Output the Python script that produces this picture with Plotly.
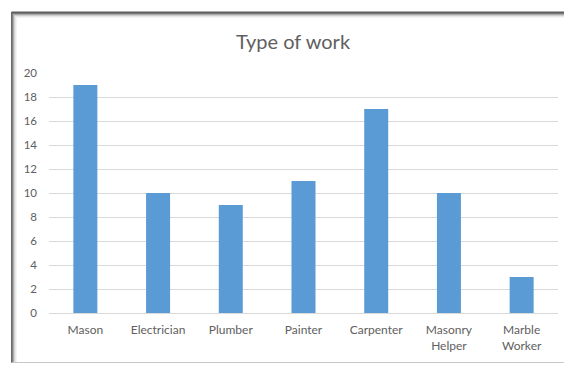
import plotly.graph_objects as go

categories = ["Mason", "Electrician", "Plumber", "Painter", "Carpenter", "Masonry<br>Helper", "Marble<br>Worker"]
values = [19, 10, 9, 11, 17, 10, 3]
y_ticks = [0, 2, 4, 6, 8, 10, 12, 14, 16, 18, 20]

W, H = 564, 365
L, R, T, B = 48.5, 5.5, 73, 52
pw, ph = W - L - R, H - T - B

def px(x):
    return (x - L) / pw

def py(y):
    return (H - B - y) / ph

fig = go.Figure(go.Bar(
    x=categories, y=values,
    marker=dict(color="#5B9BD5", line=dict(width=0)),
))

shapes = []
# frame with soft shadow on top and left
for i, c in enumerate(["#5e5e5e", "#7a7a7a", "#a8a8a8", "#cfcfcf", "#e8e8e8", "#f4f4f4"]):
    off = i
    shapes.append(dict(type="line", xref="paper", yref="paper",
                       x0=px(11 + off), x1=px(11 + off), y0=py(12 + off), y1=py(363),
                       line=dict(color=c, width=1)))
    shapes.append(dict(type="line", xref="paper", yref="paper",
                       x0=px(11 + off), x1=px(570), y0=py(12.5 + off), y1=py(12.5 + off),
                       line=dict(color=c, width=1 if i else 2)))
shapes.append(dict(type="line", xref="paper", yref="paper",
                   x0=px(11), x1=px(570), y0=py(362.5), y1=py(362.5),
                   line=dict(color="#c8c8c8", width=1)))

fig.update_layout(
    width=W, height=H,
    margin=dict(l=L, r=R, t=T, b=B),
    paper_bgcolor="white", plot_bgcolor="white",
    font=dict(family="Lato, Carlito, sans-serif", color="#606060", size=12),
    title=dict(text="Type of work", x=293 / W, xref="container", xanchor="center",
               y=1 - 42 / H, yanchor="middle",
               font=dict(size=20, color="#606060")),
    bargap=0.67,
    showlegend=False,
    shapes=shapes,
    xaxis=dict(showgrid=False, showline=True, linecolor="#d9d9d9", linewidth=1,
               ticks="", ticklabelstandoff=6,
               tickfont=dict(size=12, color="#606060"), fixedrange=True),
    yaxis=dict(range=[0, 20], tickvals=y_ticks, showgrid=True, gridcolor="#d9d9d9",
               gridwidth=1, zeroline=False, showline=False, ticks="",
               ticklabelstandoff=11, tickfont=dict(size=11.5, color="#606060"),
               fixedrange=True),
)

fig.write_html("out.html")
